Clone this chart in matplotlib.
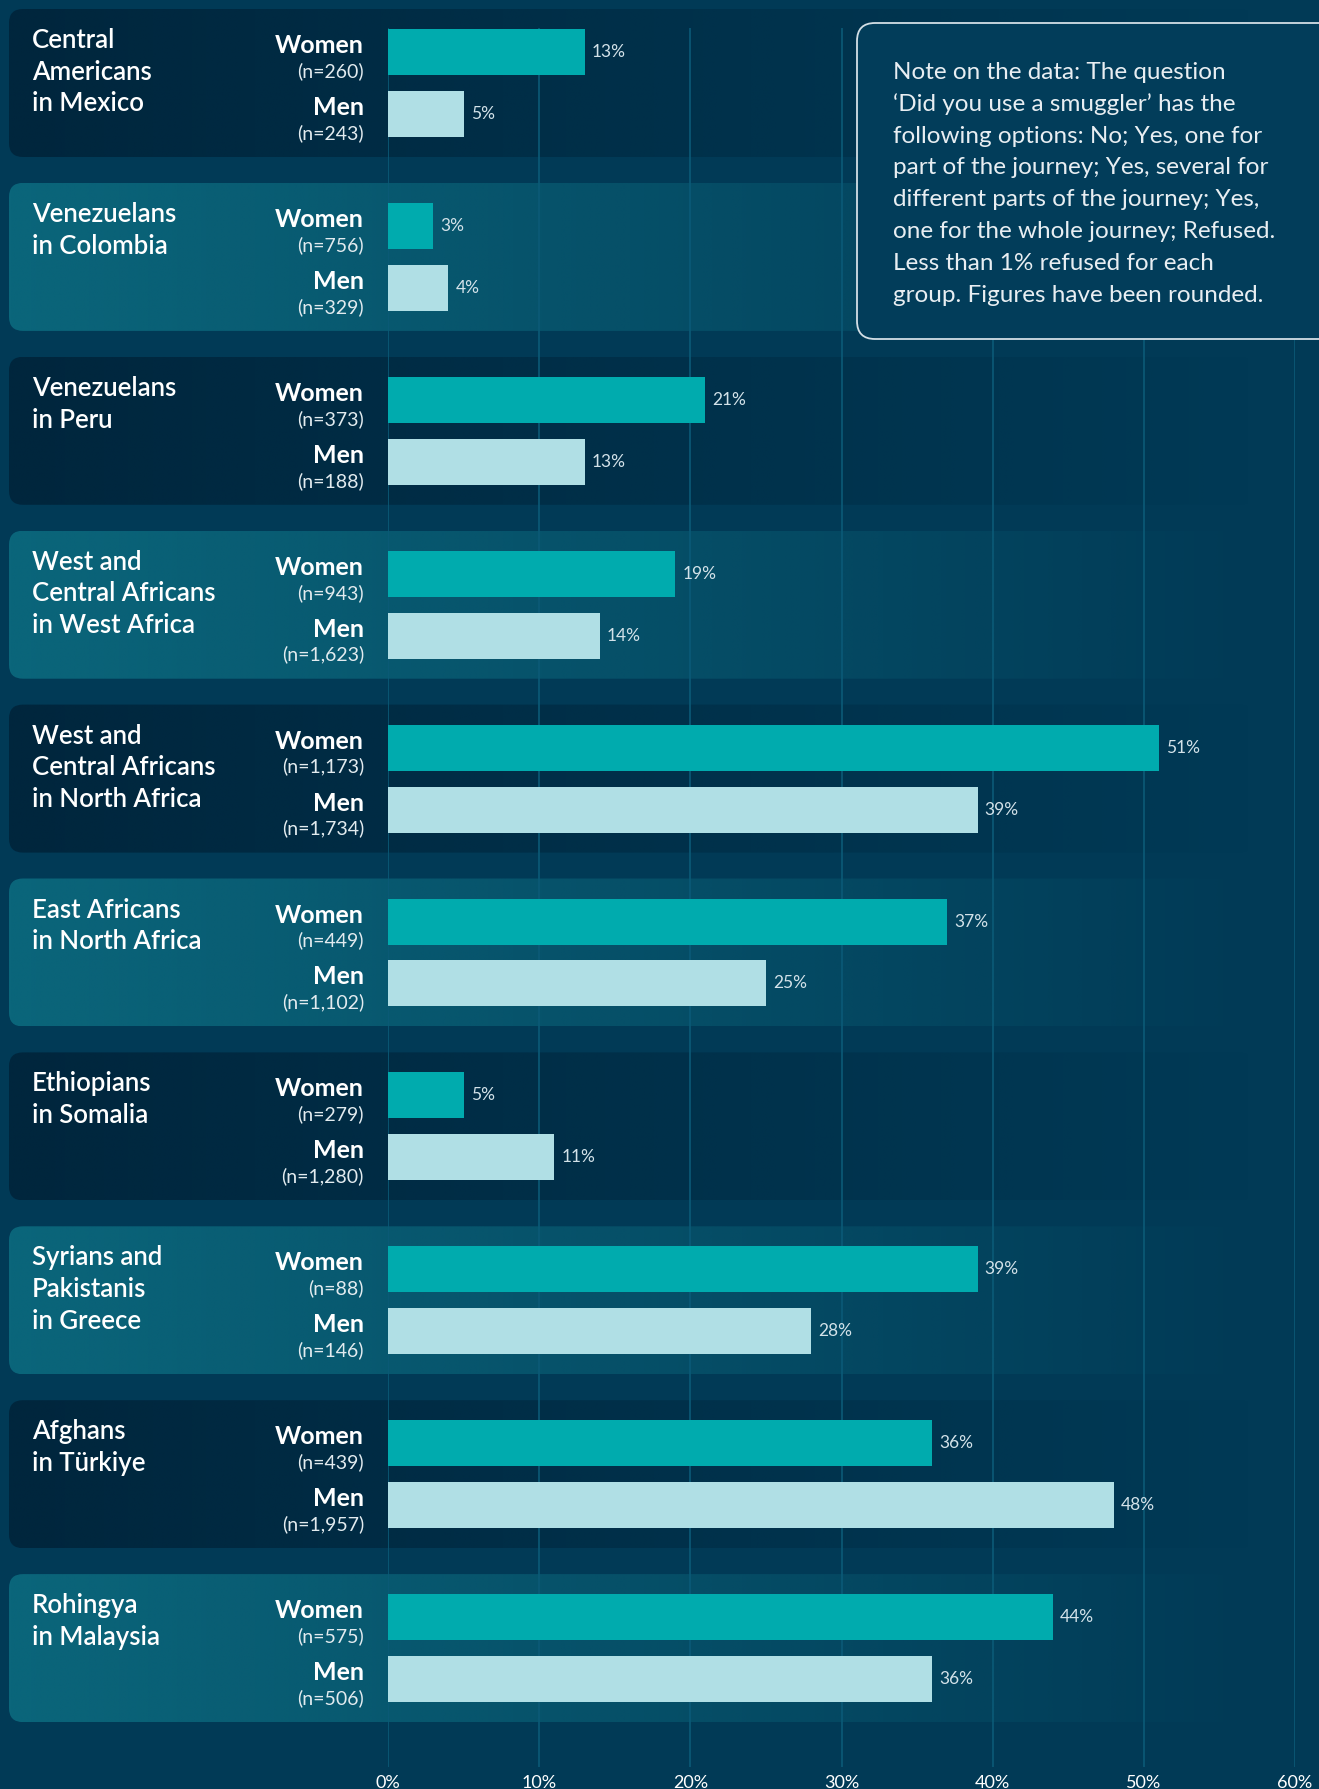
import numpy as np
import matplotlib
matplotlib.use("Agg")
import matplotlib.pyplot as plt
from matplotlib.patches import FancyBboxPatch
from matplotlib.colors import to_rgb

# ── Data ────────────────────────────────────────────────────────────────────
groups = [
    "Central\nAmericans\nin Mexico",
    "Venezuelans\nin Colombia",
    "Venezuelans\nin Peru",
    "West and\nCentral Africans\nin West Africa",
    "West and\nCentral Africans\nin North Africa",
    "East Africans\nin North Africa",
    "Ethiopians\nin Somalia",
    "Syrians and\nPakistanis\nin Greece",
    "Afghans\nin Türkiye",
    "Rohingya\nin Malaysia",
]
women_pct = [13, 3, 21, 19, 51, 37, 5, 39, 36, 44]
men_pct = [5, 4, 13, 14, 39, 25, 11, 28, 48, 36]
women_n = ["260", "756", "373", "943", "1,173", "449", "279", "88", "439", "575"]
men_n = ["243", "329", "188", "1,623", "1,734", "1,102", "1,280", "146", "1,957", "506"]
x_ticks = [0, 10, 20, 30, 40, 50, 60]

note_lines = [
    "Note on the data: The question",
    "\u2018Did you use a smuggler\u2019 has the",
    "following options: No; Yes, one for",
    "part of the journey; Yes, several for",
    "different parts of the journey; Yes,",
    "one for the whole journey; Refused.",
    "Less than 1% refused for each",
    "group. Figures have been rounded.",
]

# ── Style ───────────────────────────────────────────────────────────────────
W, H = 1319, 1789
BG = "#013a56"
PANEL_DARK = "#00263d"
PANEL_LIGHT = "#0b667b"
WOMEN_C = "#00abae"
MEN_C = "#b0dfe5"
GRID_C = "#0b5a77"

ROW0, STEP = 83, 173.9        # pixel centre of first group, pixel step between groups
PANEL_H = 148
PANEL_X0, PANEL_X1 = 9, 1255
AX_X0, AX_X1 = 388, 1295      # 0% and 60% in pixels
AX_Y0, AX_Y1 = 28, 1767       # top / bottom of the bar axes in pixels
OFF = 0.178                   # women/men offset from group centre
BAR_H = 0.264

plt.rcParams["font.family"] = ["Lato", "DejaVu Sans"]

fig = plt.figure(figsize=(W / 100, H / 100), dpi=100, facecolor=BG)

# background layer in pixel coordinates
bg = fig.add_axes([0, 0, 1, 1], zorder=0)
bg.set_facecolor(BG)
bg.axis("off")


def row_px(i):
    return ROW0 + STEP * i


def gradient_panel(ax, y0, color):
    img = np.zeros((1, 256, 4))
    img[..., :3] = to_rgb(color)
    img[0, :, 3] = np.linspace(1.0, 0.0, 256)
    box = FancyBboxPatch((PANEL_X0, y0), PANEL_X1 - PANEL_X0, PANEL_H,
                         boxstyle="round,pad=0,rounding_size=14",
                         fc="none", ec="none")
    ax.add_patch(box)
    im = ax.imshow(img, extent=(PANEL_X0, PANEL_X1, y0 + PANEL_H, y0),
                   aspect="auto", interpolation="bilinear")
    im.set_clip_path(box)


for i, g in enumerate(groups):
    top = row_px(i) - PANEL_H / 2
    gradient_panel(bg, top, PANEL_DARK if i % 2 == 0 else PANEL_LIGHT)
    for k, line in enumerate(g.split("\n")):
        bg.text(32, row_px(i) - 35 + k * 31.7, line, color="white",
                fontsize=18.5, fontweight="semibold", va="baseline", ha="left")

bg.set_xlim(0, W)
bg.set_ylim(H, 0)

# ── Bars ────────────────────────────────────────────────────────────────────
ax = fig.add_axes([AX_X0 / W, 1 - AX_Y1 / H, (AX_X1 - AX_X0) / W, (AX_Y1 - AX_Y0) / H],
                  zorder=1)
ax.patch.set_alpha(0)
y = np.arange(len(groups))
ax.barh(y - OFF, women_pct, height=BAR_H, color=WOMEN_C, zorder=3)
ax.barh(y + OFF, men_pct, height=BAR_H, color=MEN_C, zorder=3)

ax.set_xlim(0, 60)
ax.set_ylim((AX_Y1 - ROW0) / STEP, (AX_Y0 - ROW0) / STEP)
ax.set_xticks(x_ticks)
ax.set_xticklabels([f"{t}%" for t in x_ticks])
ax.set_yticks([])
ax.tick_params(axis="x", length=0, pad=6, labelcolor="white", labelsize=13)
ax.grid(axis="x", color=GRID_C, lw=1.2, zorder=1)
ax.set_axisbelow(True)
for s in ax.spines.values():
    s.set_visible(False)

for i in range(len(groups)):
    for val, n, label, yy in ((women_pct[i], women_n[i], "Women", i - OFF),
                              (men_pct[i], men_n[i], "Men", i + OFF)):
        ax.annotate(f"{val}%", xy=(val, yy), xytext=(7, 0), textcoords="offset pixels",
                    va="center", ha="left", color="#d3e2e9", fontsize=12.5)
        ax.annotate(label, xy=(0, yy), xytext=(-24, -1), textcoords="offset pixels",
                    va="baseline", ha="right", color="white", fontsize=18,
                    fontweight="bold", annotation_clip=False)
        ax.annotate(f"(n={n})", xy=(0, yy), xytext=(-24, -25), textcoords="offset pixels",
                    va="baseline", ha="right", color="#e2ebef", fontsize=14,
                    annotation_clip=False)

# ── Note box ────────────────────────────────────────────────────────────────
over = fig.add_axes([0, 0, 1, 1], zorder=2)
over.patch.set_alpha(0)
over.axis("off")
over.add_patch(FancyBboxPatch((857, 23), 520, 316,
                              boxstyle="round,pad=0,rounding_size=18",
                              fc="#023d5a", ec="#d3dfe6", lw=1.3))
for k, line in enumerate(note_lines):
    over.text(893, 79 + k * 31.8, line, color="#e8eef2", fontsize=17.5,
              fontweight="normal", va="baseline", ha="left")
over.set_xlim(0, W)
over.set_ylim(H, 0)

fig.savefig("out.png", dpi=100, facecolor=BG)
